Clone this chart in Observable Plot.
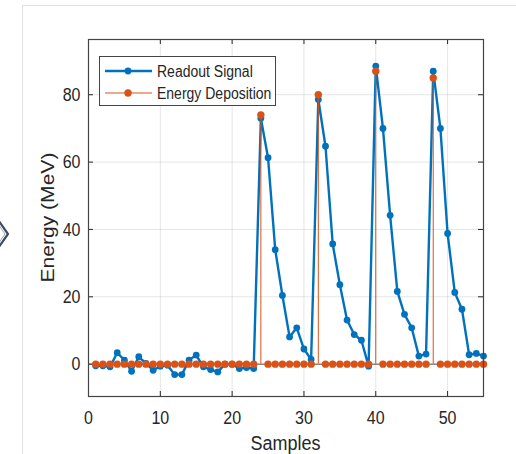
<!DOCTYPE html>
<html>
<head>
<meta charset="utf-8">
<script src="https://cdn.jsdelivr.net/npm/d3@7"></script>
<script src="https://cdn.jsdelivr.net/npm/@observablehq/plot@0.6"></script>
<style>
  html, body { margin: 0; padding: 0; background: #fff; }
  #wrap { position: relative; width: 516px; height: 454px; overflow: hidden; font-family: "Liberation Sans", Arial, sans-serif; }
  #wrap svg.plot text { font-family: "Liberation Sans", Arial, sans-serif; }
  .edge-v { position: absolute; left: 22px; top: 5px; width: 1px; height: 449px; background: #e2e2e2; }
  .edge-h { position: absolute; left: 22px; top: 5px; width: 494px; height: 1px; background: #e2e2e2; }
  .chev { position: absolute; left: 0; top: 215px; }
  .legend { position: absolute; left: 99px; top: 56px; width: 177px; height: 50px; border: 1px solid #444; background: #fff; box-sizing: border-box; }
  .legend .row { position: absolute; left: 0; height: 22px; display: flex; align-items: center; font-size: 14px; color: #262626; }
  .legend .row span { margin-left: 3px; display: inline-block; transform: scaleY(1.17); }
</style>
</head>
<body>
<div id="wrap">
  <div class="edge-v"></div>
  <div class="edge-h"></div>
  <svg class="chev" width="12" height="40" viewBox="0 0 12 40">
    <path d="M-4,2 L8,19 L-4,36" fill="none" stroke="#3b4a63" stroke-width="2.2"/>
    <path d="M-4,6 L5,19 L-4,32" fill="none" stroke="#9aa6b8" stroke-width="1"/>
  </svg>
</div>
<script>
// Sample index along the acquisition window
const samples = [1,2,3,4,5,6,7,8,9,10,11,12,13,14,15,16,17,18,19,20,21,22,23,24,25,26,27,28,29,30,31,32,33,34,35,36,37,38,39,40,41,42,43,44,45,46,47,48,49,50,51,52,53,54,55];

// Shaped readout signal (MeV)
const readoutSignal = [
  -0.5, -0.5, -0.8, 3.4, 1.2, -2.1, 2.2, 0.2, -1.8, -0.6,
  -0.3, -3.1, -3.1, 1.2, 2.7, -0.8, -1.6, -2.3, 0.0, 0.0,
  -1.3, -1.0, -1.3, 73.0, 61.3, 34.0, 20.4, 8.1, 10.8, 4.5,
  1.4, 78.6, 64.7, 35.7, 23.6, 13.1, 8.8, 7.1, -0.6, 88.5,
  70.0, 44.2, 21.6, 14.8, 10.8, 2.4, 3.0, 87.0, 70.0, 38.8,
  21.3, 16.3, 2.8, 3.2, 2.4
];

// True energy deposited per sample (MeV)
const energyDeposition = [
  0, 0, 0, 0, 0, 0, 0, 0, 0, 0,
  0, 0, 0, 0, 0, 0, 0, 0, 0, 0,
  0, 0, 0, 74, 0, 0, 0, 0, 0, 0,
  0, 80, 0, 0, 0, 0, 0, 0, 0, 87,
  0, 0, 0, 0, 0, 0, 0, 85, 0, 0,
  0, 0, 0, 0, 0
];

const xTicks = [0, 10, 20, 30, 40, 50];
const yTicks = [0, 20, 40, 60, 80];
const seriesNames = ["Readout Signal", "Energy Deposition"];

const blue = "#0072BD";
const orange = "#D95319";
const ink = "#262626";
const stretch = 1.17; // tall, narrow lettering

const rows = samples.map((s, i) => ({sample: s, signal: readoutSignal[i], energy: energyDeposition[i]}));
const hits = rows.filter(d => d.energy !== 0);

const W = 516, H = 454;
const mL = 88, mR = 33, mT = 39, mB = 58;
const innerW = W - mL - mR, innerH = H - mT - mB;
const tick = 5;

const chart = Plot.plot({
  width: W,
  height: H,
  marginLeft: mL,
  marginRight: mR,
  marginTop: mT,
  marginBottom: mB,
  style: {background: "transparent", fontSize: "16px", color: ink},
  x: {domain: [0, 55], ticks: xTicks},
  y: {domain: [-9.6, 96.4], ticks: yTicks},
  marks: [
    Plot.gridX(xTicks, {stroke: "#000", strokeOpacity: 0.1}),
    Plot.gridY(yTicks, {stroke: "#000", strokeOpacity: 0.1}),
    // inward ticks on all four sides
    Plot.tickX(xTicks, {x: d => d, insetTop: innerH - tick, stroke: ink}),
    Plot.tickX(xTicks, {x: d => d, insetBottom: innerH - tick, stroke: ink}),
    Plot.tickY(yTicks, {y: d => d, insetRight: innerW - tick, stroke: ink}),
    Plot.tickY(yTicks, {y: d => d, insetLeft: innerW - tick, stroke: ink}),
    Plot.axisX(xTicks, {tickSize: 0, tickPadding: 15, label: null, fill: ink, fontSize: 16}),
    Plot.axisY(yTicks, {tickSize: 0, tickPadding: 8, label: null, fill: ink, fontSize: 16}),
    // stem baseline
    Plot.ruleY([0], {stroke: "#555", strokeWidth: 1}),
    // readout signal
    Plot.line(rows, {x: "sample", y: "signal", stroke: blue, strokeWidth: 2.4}),
    Plot.dot(rows, {x: "sample", y: "signal", fill: blue, r: 3.4}),
    // energy deposition stems
    Plot.ruleX(hits, {x: "sample", y1: 0, y2: "energy", stroke: orange, strokeWidth: 1}),
    Plot.dot(rows, {x: "sample", y: "energy", fill: orange, r: 3.7}),
    Plot.frame({stroke: "#444", strokeWidth: 1.2})
  ]
});
chart.classList.add("plot");

const wrap = document.getElementById("wrap");
chart.style.position = "absolute";
chart.style.left = "0px";
chart.style.top = "0px";
wrap.appendChild(chart);

const svg = d3.select(chart);

// stretch tick labels vertically about their own centre
svg.selectAll("text").each(function () {
  const b = this.getBBox();
  const cy = b.y + b.height / 2;
  const t = this.getAttribute("transform") || "";
  this.setAttribute("transform", `${t} translate(0,${cy}) scale(1,${stretch}) translate(0,${-cy})`);
});

// axis titles
svg.append("text")
  .attr("transform", `translate(${mL + innerW / 2},450) scale(1,${stretch})`)
  .attr("text-anchor", "middle")
  .attr("fill", ink).attr("font-size", 18)
  .text("Samples");
svg.append("text")
  .attr("transform", `translate(54,${mT + innerH / 2}) rotate(-90) scale(${stretch},1)`)
  .attr("text-anchor", "middle")
  .attr("fill", ink).attr("font-size", 18)
  .text("Energy (MeV)");

// legend
const legend = document.createElement("div");
legend.className = "legend";
const swatches = [
  {color: blue, width: 2.4, r: 3.4},
  {color: orange, width: 1, r: 3.7}
];
seriesNames.forEach((name, i) => {
  const row = document.createElement("div");
  row.className = "row";
  row.style.top = (3 + i * 22) + "px";
  const sw = swatches[i];
  row.innerHTML =
    `<svg width="54" height="22"><line x1="5" x2="52" y1="11" y2="11" stroke="${sw.color}" stroke-width="${sw.width}"/>` +
    `<circle cx="28" cy="11" r="${sw.r}" fill="${sw.color}"/></svg><span>${name}</span>`;
  legend.appendChild(row);
});
wrap.appendChild(legend);
</script>
</body>
</html>
